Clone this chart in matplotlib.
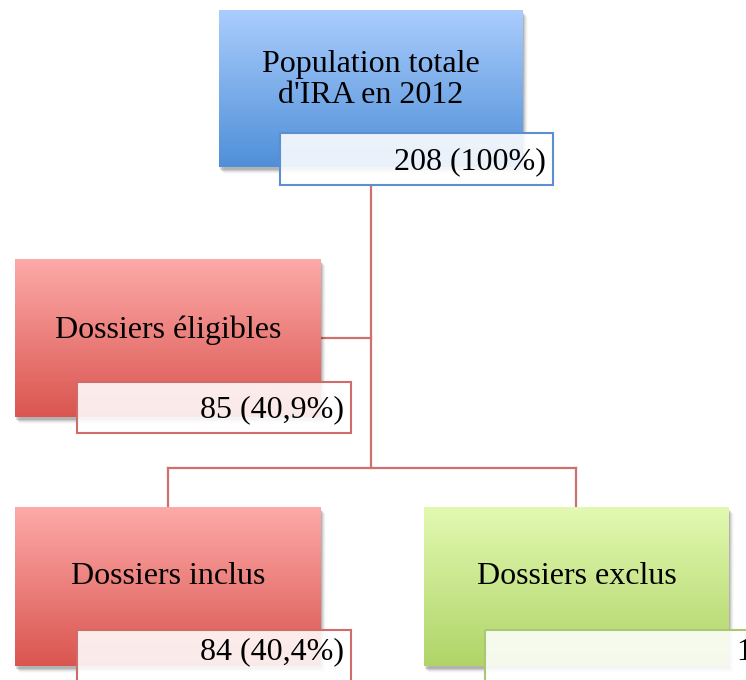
import numpy as np
import matplotlib

matplotlib.use("Agg")
import matplotlib.pyplot as plt
from matplotlib.patches import Rectangle
from matplotlib.colors import LinearSegmentedColormap

# Flowchart content
titles = ["Population totale\nd'IRA en 2012", "Dossiers éligibles", "Dossiers inclus", "Dossiers exclus"]
counts = [208, 85, 84, 124]
percents = ["100%", "40,9%", "40,4%", "59,6%"]

# Colour themes (top colour, bottom colour, label border)
themes = {
    "blue": ("#aacdfd", "#4f8fd8", "#5b8fcf"),
    "red": ("#fdaaa8", "#da5550", "#cf6b68"),
    "green": ("#e2f9b1", "#b0d468", "#a9c872"),
}
box_theme = ["blue", "red", "red", "green"]

# Layout in pixels (x0, y0, x1, y1), y downwards
boxes = [(219, 10, 523, 167), (15, 259, 321, 417), (15, 507, 321, 666), (424, 507, 729, 666)]
labels = [(280, 133, 553, 185), (77, 382, 351, 433), (77, 630, 351, 700), (485, 630, 780, 700)]
title_pos = [(371, 80), (168, 330), (168, 577), (577, 577)]
label_y = [162, 410, 652, 652]

W, H = 746, 680
fig = plt.figure(figsize=(W / 100, H / 100), dpi=100)
ax = fig.add_axes([0, 0, 1, 1])
ax.set_xlim(0, W)
ax.set_ylim(H, 0)
ax.axis("off")

plt.rcParams["font.family"] = ["Liberation Serif", "DejaVu Serif"]
fs = 23
line_col = "#d0706c"

# Connectors
ax.plot([371, 371], [185, 468], color=line_col, lw=1.6, zorder=1)
ax.plot([321, 371], [338, 338], color=line_col, lw=1.6, zorder=1)
ax.plot([168, 576], [468, 468], color=line_col, lw=1.6, zorder=1)
ax.plot([168, 168], [468, 507], color=line_col, lw=1.6, zorder=1)
ax.plot([576, 576], [468, 507], color=line_col, lw=1.6, zorder=1)

grad = np.linspace(0, 1, 256).reshape(-1, 1)

for i, (x0, y0, x1, y1) in enumerate(boxes):
    top, bottom, edge = themes[box_theme[i]]
    # soft drop shadow
    for k, a in enumerate([0.12, 0.09, 0.06, 0.04, 0.02]):
        ax.add_patch(Rectangle((x0 + 1 + k, y0 + 3 + k), x1 - x0, y1 - y0,
                               facecolor="black", edgecolor="none", alpha=a, zorder=2))
    cmap = LinearSegmentedColormap.from_list("g%d" % i, [top, bottom])
    ax.imshow(grad, cmap=cmap, extent=[x0, x1, y1, y0], origin="upper",
              aspect="auto", zorder=3)
    tx, ty = title_pos[i]
    ax.text(tx, ty, titles[i], fontsize=fs, ha="center", va="center",
            linespacing=1.1, zorder=4)

    lx0, ly0, lx1, ly1 = labels[i]
    ax.add_patch(Rectangle((lx0, ly0), lx1 - lx0, ly1 - ly0, facecolor="white",
                           edgecolor="none", alpha=0.88, zorder=5))
    ax.add_patch(Rectangle((lx0, ly0), lx1 - lx0, ly1 - ly0, facecolor="none",
                           edgecolor=edge, lw=1.5, zorder=6))
    lbl = "%d (%s)" % (counts[i], percents[i])
    if i == 3:
        # label runs past the right edge of the picture
        ax.text(737, label_y[i], lbl, fontsize=fs, ha="left", va="center", zorder=7)
    else:
        ax.text(lx1 - 7, label_y[i], lbl, fontsize=fs, ha="right", va="center", zorder=7)

ax.set_xlim(0, W)
ax.set_ylim(H, 0)
fig.savefig("out.png", dpi=100)
